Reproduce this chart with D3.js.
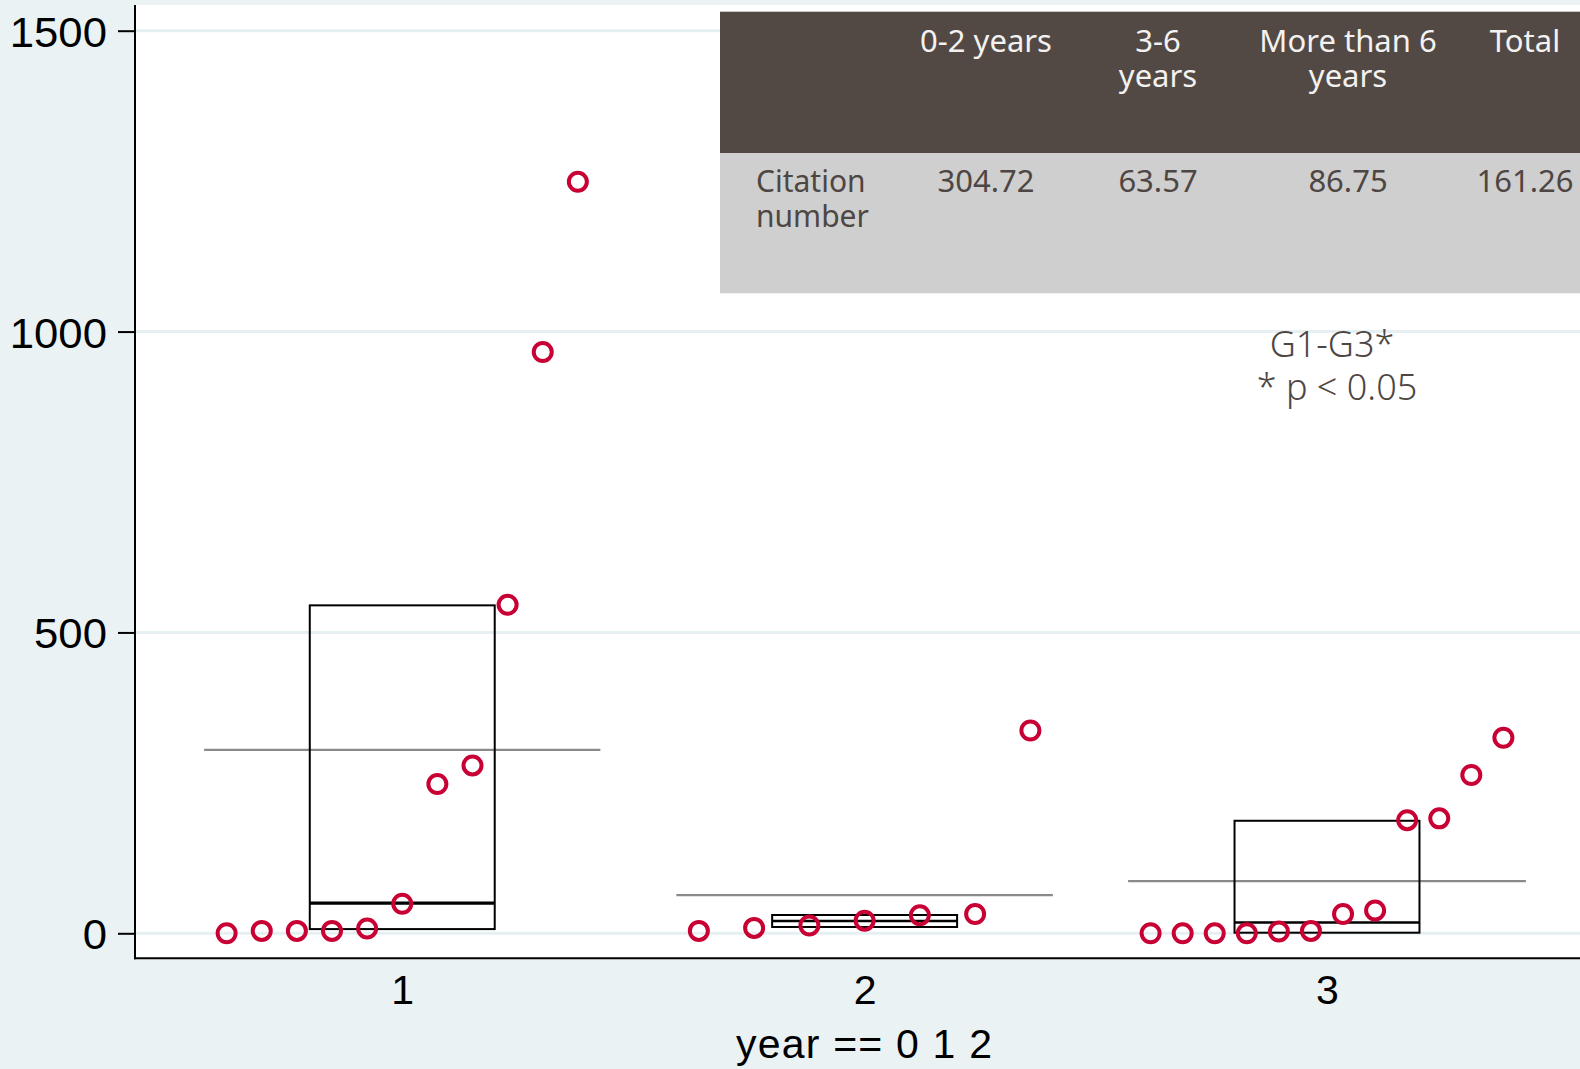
<!DOCTYPE html>
<html>
<head>
<meta charset="utf-8">
<script src="https://cdn.jsdelivr.net/npm/d3@7"></script>
<style>
  html, body { margin: 0; padding: 0; background: #EAF2F3; }
  svg { display: block; }
</style>
</head>
<body>
<script>
// ---------------- DATA ----------------
const categories = [1, 2, 3];
const group1Values = [0, 4, 4, 4, 8, 49, 248, 279, 546, 966, 1249];
const group2Values = [4, 9, 13, 21, 30, 32, 337];
const group3Values = [0, 0, 0, 0, 3, 4, 32, 38, 188, 191, 263, 325];
const groupMeans = [304.72, 63.57, 86.75];
const boxQ1 = [7, 10.5, 1];
const boxMedian = [50, 20.5, 18];
const boxQ3 = [545, 30.4, 187];
const yTickValues = [0, 500, 1000, 1500];
const xTitle = "year == 0 1 2";
const tableHeaders = [["0-2 years"], ["3-6", "years"], ["More than 6", "years"], ["Total"]];
const tableRowLabel = ["Citation", "number"];
const tableValues = ["304.72", "63.57", "86.75", "161.26"];
const annotationLines = ["G1-G3*", "* p < 0.05"];

// ---------------- LAYOUT ----------------
const W = 1580, H = 1069;
const plotLeft = 135, plotRight = 1580, plotTop = 5, plotBottom = 958.3;
const spreadHalf = [0.3798, 0.3585, 0.3815]; // horizontal spread of the strip points (category units)
const boxHalf = 0.2;
const meanExtra = 0.0487;
const axisFont = "'Liberation Sans', Arial, sans-serif";

const svg = d3.select("body").append("svg").attr("width", W).attr("height", H);

svg.append("rect").attr("width", W).attr("height", H).attr("fill", "#EAF2F3");
svg.append("rect").attr("x", plotLeft).attr("y", plotTop)
  .attr("width", plotRight - plotLeft).attr("height", plotBottom - plotTop).attr("fill", "#FFFFFF");

const x = d3.scaleLinear().domain([1, 3]).range([402.25, 1327]);
const y = d3.scaleLinear().domain([0, 1500]).range([933.3, 30.7]);

// grid lines
svg.append("g").selectAll("line").data(yTickValues).join("line")
  .attr("x1", plotLeft).attr("x2", plotRight)
  .attr("y1", d => y(d)).attr("y2", d => y(d))
  .attr("stroke", "#E6EFF1").attr("stroke-width", 3);

// y axis
const yAxis = svg.append("g").attr("transform", `translate(${plotLeft},0)`)
  .call(d3.axisLeft(y).tickValues(yTickValues).tickSize(17).tickPadding(10).tickFormat(d3.format("d")));
yAxis.select(".domain").remove();
yAxis.selectAll(".tick line").attr("stroke", "#000").attr("stroke-width", 2);
yAxis.selectAll(".tick text").attr("font-family", axisFont)
  .attr("font-size", 42).attr("fill", "#000").attr("dy", "0.37em")
  .attr("transform", "scale(1.04,1)");

// x axis
const xAxis = svg.append("g").attr("transform", `translate(0,${plotBottom})`)
  .call(d3.axisBottom(x).tickValues(categories).tickSize(0).tickPadding(17).tickFormat(d3.format("d")));
xAxis.select(".domain").remove();
xAxis.selectAll(".tick text").attr("font-family", axisFont)
  .attr("font-size", 41).attr("fill", "#000");

// axis lines
svg.append("line").attr("x1", plotLeft).attr("x2", plotLeft).attr("y1", plotTop).attr("y2", plotBottom + 1)
  .attr("stroke", "#000").attr("stroke-width", 2);
svg.append("line").attr("x1", plotLeft - 1).attr("x2", plotRight).attr("y1", plotBottom).attr("y2", plotBottom)
  .attr("stroke", "#000").attr("stroke-width", 2);

// x title
svg.append("text").attr("x", 864).attr("y", 1058.3).attr("text-anchor", "middle")
  .attr("font-family", axisFont).attr("font-size", 41)
  .attr("textLength", 256).attr("lengthAdjust", "spacing")
  .attr("fill", "#000").text(xTitle);

// multi-line text helper (one text element, one tspan per line)
function multiline(parent, lines, x0, y0, lh, attrs) {
  const t = parent.append("text").attr("x", x0).attr("y", y0);
  Object.entries(attrs).forEach(([k, v]) => t.attr(k, v));
  lines.forEach((s, j) => {
    t.append("tspan").attr("x", x0).attr("y", y0 + j * lh).text(s);
  });
  return t;
}

// table
const table = svg.append("g");
table.append("rect").attr("x", 720).attr("y", 11.7).attr("width", W - 720).attr("height", 153 - 11.7).attr("fill", "#524945");
table.append("rect").attr("x", 720).attr("y", 153).attr("width", W - 720).attr("height", 293.3 - 153).attr("fill", "#CFCFCF");
const colCenters = [986, 1158, 1348, 1525];
const tFont = "'Noto Sans', 'Open Sans', sans-serif";
tableHeaders.forEach((lines, i) => {
  multiline(table, lines, colCenters[i], 52.3, 34.5, {
    "text-anchor": "middle", "font-family": tFont, "font-size": 31, "fill": "#F4F2F0"
  });
});
multiline(table, tableRowLabel, 756, 191.7, 35, {
  "font-family": tFont, "font-size": 30, "fill": "#4E4643"
});
tableValues.forEach((t, i) => {
  table.append("text").attr("x", colCenters[i]).attr("y", 191.7)
    .attr("text-anchor", "middle").attr("font-family", tFont).attr("font-size", 31)
    .attr("fill", "#4E4643").text(t);
});

// annotation
const ann = svg.append("text").attr("text-anchor", "middle")
  .attr("font-family", tFont).attr("font-weight", 300).attr("font-size", 36).attr("fill", "#4E4643");
const annX = [1332, 1337], annY = [356.7, 400];
annotationLines.forEach((s, i) => {
  ann.append("tspan").attr("x", annX[i]).attr("y", annY[i]).text(s);
});

// groups
const groupValues = [group1Values, group2Values, group3Values];
const marks = svg.append("g");
categories.forEach((c, gi) => {
  const vals = groupValues[gi];
  const n = vals.length;
  const px = i => x(c - spreadHalf[gi] + (n > 1 ? (2 * spreadHalf[gi] * i) / (n - 1) : spreadHalf[gi]));
  // mean line
  marks.append("line")
    .attr("x1", x(c - spreadHalf[gi] - meanExtra)).attr("x2", x(c + spreadHalf[gi] + meanExtra))
    .attr("y1", y(groupMeans[gi])).attr("y2", y(groupMeans[gi]))
    .attr("stroke", "#8A8A8A").attr("stroke-width", 2.2);
  // box
  marks.append("rect")
    .attr("x", x(c - boxHalf)).attr("width", x(c + boxHalf) - x(c - boxHalf))
    .attr("y", y(boxQ3[gi])).attr("height", y(boxQ1[gi]) - y(boxQ3[gi]))
    .attr("fill", "none").attr("stroke", "#000").attr("stroke-width", 2);
  marks.append("line")
    .attr("x1", x(c - boxHalf)).attr("x2", x(c + boxHalf))
    .attr("y1", y(boxMedian[gi])).attr("y2", y(boxMedian[gi]))
    .attr("stroke", "#000").attr("stroke-width", gi === 0 ? 3.2 : 2.4);
  // points
  marks.append("g").selectAll("circle").data(vals).join("circle")
    .attr("cx", (d, i) => px(i)).attr("cy", d => y(d)).attr("r", 9)
    .attr("fill", "none").attr("stroke", "#C80034").attr("stroke-width", 4);
});
</script>
</body>
</html>
